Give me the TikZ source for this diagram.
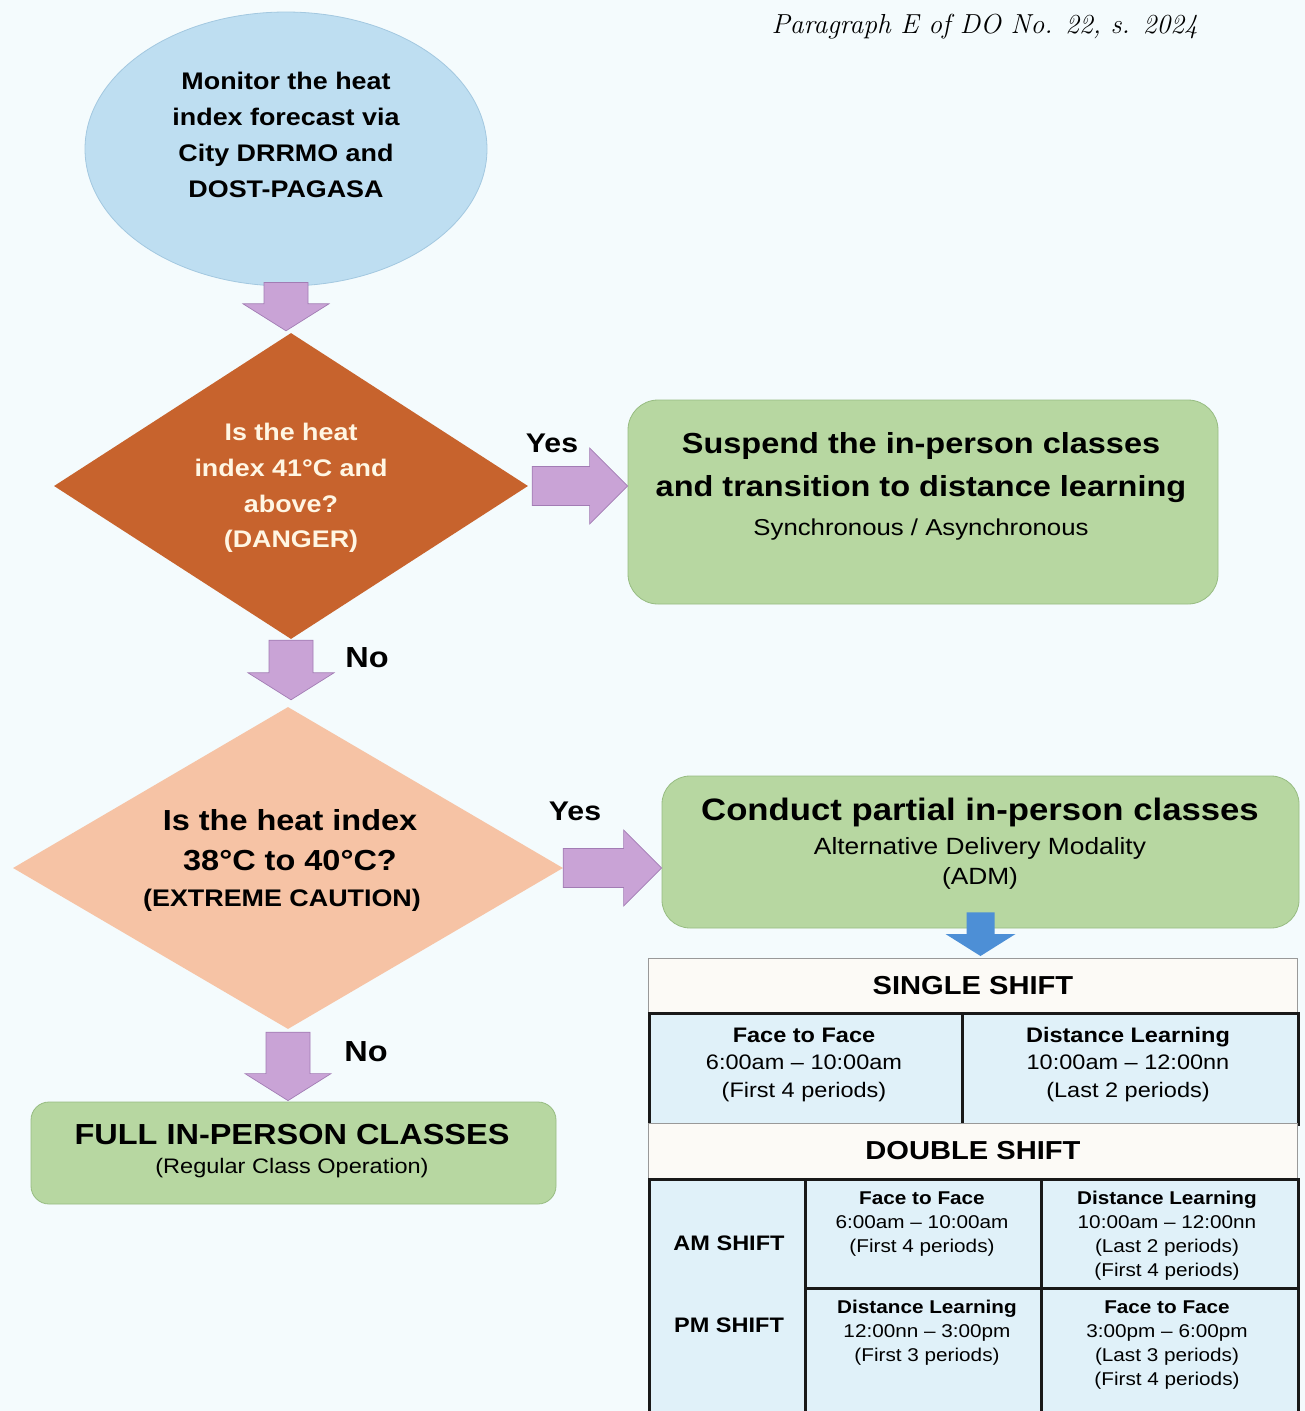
\documentclass[tikz,border=0pt]{standalone}
\usepackage{fontspec}
\newfontfamily\arialf{Liberation Sans}[FakeStretch=1.12]
\usetikzlibrary{shapes.geometric,calc}
\definecolor{bgc}{HTML}{F4FBFD}
\definecolor{ellfill}{HTML}{BEDEF1}
\definecolor{ellline}{HTML}{A3C8E0}
\definecolor{dangerc}{HTML}{C7632D}
\definecolor{cautionc}{HTML}{F6C3A5}
\definecolor{greenf}{HTML}{B7D7A1}
\definecolor{greenl}{HTML}{97BC82}
\definecolor{purf}{HTML}{C9A3D6}
\definecolor{purl}{HTML}{A27CB4}
\definecolor{bluearr}{HTML}{4D8FD6}
\definecolor{cellf}{HTML}{E0F1F9}
\definecolor{bandf}{HTML}{FCFAF6}
\definecolor{creamt}{HTML}{FFF6E3}
\newcommand\setfs[2]{\fontsize{#1}{#2}\selectfont}
\begin{document}
\begin{tikzpicture}[x=1pt,y=-1pt,
  txt/.style={inner sep=0pt, align=center, text=black, font=\arialf},
  greenbox/.style={rectangle, fill=greenf, draw=greenl, line width=0.8pt, inner sep=0pt},
  pdown/.style={fill=purf, draw=purl, line width=0.7pt,
    to path={let \p1=(\tikztostart), \p2=(\tikztotarget) in
      (\x1-22pt,\y1) -- (\x1+22pt,\y1) -- (\x1+22pt,\y2+27pt) -- (\x1+43pt,\y2+27pt)
      -- (\x1,\y2) -- (\x1-43pt,\y2+27pt) -- (\x1-22pt,\y2+27pt) -- cycle}},
  pright/.style={fill=purf, draw=purl, line width=0.7pt,
    to path={let \p1=(\tikztostart), \p2=(\tikztotarget) in
      (\x1,\y1+19.5pt) -- (\x2-38pt,\y1+19.5pt) -- (\x2-38pt,\y1+38pt) -- (\x2,\y1)
      -- (\x2-38pt,\y1-38pt) -- (\x2-38pt,\y1-19.5pt) -- (\x1,\y1-19.5pt) -- cycle}},
  bdown/.style={fill=bluearr, draw=none,
    to path={let \p1=(\tikztostart), \p2=(\tikztotarget) in
      (\x1-14pt,\y1) -- (\x1+14pt,\y1) -- (\x1+14pt,\y2+22pt) -- (\x1+35pt,\y2+22pt)
      -- (\x1,\y2) -- (\x1-35pt,\y2+22pt) -- (\x1-14pt,\y2+22pt) -- cycle}},
  band/.style={rectangle, anchor=north west, fill=bandf, draw=black!40, line width=0.8pt, inner sep=0pt,
    font=\arialf\bfseries\setfs{26}{30}},
  cell/.style={rectangle, anchor=north west, fill=cellf, draw=black!90, line width=2.6pt, inner sep=0pt},
]
\clip (0,0) rectangle (1305,1411);
\fill[bgc] (0,0) rectangle (1305,1411);

% title
\node[anchor=east, inner sep=0pt, font=\itshape\setfs{27.5}{32}] (title) at (1198,27) {Paragraph E of DO No. 22, s. 2024};

% start ellipse
\node[ellipse, fill=ellfill, draw=ellline, line width=0.8pt, minimum width=402pt, minimum height=274pt, inner sep=0pt] (mon) at (286,149) {};
\node[txt, font=\arialf\bfseries\setfs{24}{36}] (mont) at (286,135) {Monitor the heat\\index forecast via\\City DRRMO and\\DOST-PAGASA};

% decision 1
\node[diamond, fill=dangerc, minimum width=474pt, minimum height=306pt, inner sep=0pt] (d1) at (291,486) {};
\node[txt, text=creamt, font=\arialf\bfseries\setfs{24}{35.7}] (d1t) at (291,488) {Is the heat\\index 41°C and\\above?\\(DANGER)};

% suspend box
\node[greenbox, rounded corners=30pt, minimum width=590pt, minimum height=204pt] (s1) at (923,502) {};
\node[txt, font=\arialf\bfseries\setfs{29}{43}] (s1t) at (921,468) {Suspend the in-person classes\\and transition to distance learning};
\node[txt, font=\arialf\setfs{23}{28}] (s1s) at (921,530) {Synchronous / Asynchronous};

% decision 2
\node[diamond, fill=cautionc, minimum width=550pt, minimum height=322pt, inner sep=0pt] (d2) at (288,868) {};
\node[txt, font=\arialf\bfseries\setfs{29}{40}] (d2t) at (290,840) {Is the heat index\\38°C to 40°C?};
\node[txt, font=\arialf\bfseries\setfs{24}{28}] (d2s) at (282,900) {(EXTREME CAUTION)};

% partial box
\node[greenbox, rounded corners=28pt, minimum width=637pt, minimum height=152pt] (c2) at (980.5,852) {};
\node[txt, font=\arialf\bfseries\setfs{31}{36}] (c2t) at (980,812) {Conduct partial in-person classes};
\node[txt, font=\arialf\setfs{23.5}{30}] (c2s) at (980,863) {Alternative Delivery Modality\\(ADM)};

% full box
\node[greenbox, rounded corners=18pt, minimum width=525pt, minimum height=102pt] (f3) at (293.5,1153) {};
\node[txt, font=\arialf\bfseries\setfs{29}{34}] (f3t) at (292,1135) {FULL IN-PERSON CLASSES};
\node[txt, font=\arialf\setfs{21}{26}] (f3s) at (292,1168) {(Regular Class Operation)};

% block arrows
\draw[pdown] ([yshift=4pt]mon.south) to ([yshift=2pt]d1.north);
\draw[pright] ([xshift=4pt]d1.east) to (d1.east -| s1.west);
\draw[pdown] ([yshift=-1pt]d1.south) to ([yshift=7pt]d2.north);
\draw[pright] (d2.east) to (d2.east -| c2.west);
\draw[pdown] ([yshift=-3pt]d2.south) to ([yshift=1pt]f3.north);

% labels
\node[txt, font=\arialf\bfseries\setfs{27}{30}] (yes1) at (552,443) {Yes};
\node[txt, font=\arialf\bfseries\setfs{27}{30}] (yes2) at (575,811) {Yes};
\node[txt, font=\arialf\bfseries\setfs{29}{32}] (no1) at (367,658) {No};
\node[txt, font=\arialf\bfseries\setfs{29}{32}] (no2) at (366,1052) {No};

% table
\node[band, minimum width=649pt, minimum height=54pt] (h1) at (648,958) {SINGLE SHIFT};
\node[cell, minimum width=313pt, minimum height=111pt] (ss1) at (648,1012) {};
\node[cell, minimum width=336pt, minimum height=111pt] (ss2) at (961,1012) {};
\node[band, minimum width=649pt, minimum height=55pt] (h2) at (648,1123) {DOUBLE SHIFT};
\node[cell, minimum width=156pt, minimum height=260pt] (dl) at (648,1178) {};
\node[cell, minimum width=236pt, minimum height=109pt] (da1) at (804,1178) {};
\node[cell, minimum width=257pt, minimum height=109pt] (da2) at (1040,1178) {};
\node[cell, minimum width=236pt, minimum height=151pt] (dp1) at (804,1287) {};
\node[cell, minimum width=257pt, minimum height=151pt] (dp2) at (1040,1287) {};

\draw[bdown] ([yshift=16pt]c2.south) to ([yshift=2pt]h1.north);

\node[txt, font=\arialf\setfs{21}{27.5}] (ss1t) at (804,1064.5) {\textbf{Face to Face}\\6:00am – 10:00am\\(First 4 periods)};
\node[txt, font=\arialf\setfs{21}{27.5}] (ss2t) at (1128,1064.5) {\textbf{Distance Learning}\\10:00am – 12:00nn\\(Last 2 periods)};
\node[txt, font=\arialf\bfseries\setfs{21}{26}] (amt) at (729,1243) {AM SHIFT};
\node[txt, font=\arialf\bfseries\setfs{21}{26}] (pmt) at (729,1325) {PM SHIFT};
\node[txt, font=\arialf\setfs{18.5}{24}] (da1t) at (922,1224) {\textbf{Face to Face}\\6:00am – 10:00am\\(First 4 periods)};
\node[txt, font=\arialf\setfs{18.5}{24}] (da2t) at (1167,1236) {\textbf{Distance Learning}\\10:00am – 12:00nn\\(Last 2 periods)\\(First 4 periods)};
\node[txt, font=\arialf\setfs{18.5}{24}] (dp1t) at (927,1333) {\textbf{Distance Learning}\\12:00nn – 3:00pm\\(First 3 periods)};
\node[txt, font=\arialf\setfs{18.5}{24}] (dp2t) at (1167,1345) {\textbf{Face to Face}\\3:00pm – 6:00pm\\(Last 3 periods)\\(First 4 periods)};
\end{tikzpicture}
\end{document}
